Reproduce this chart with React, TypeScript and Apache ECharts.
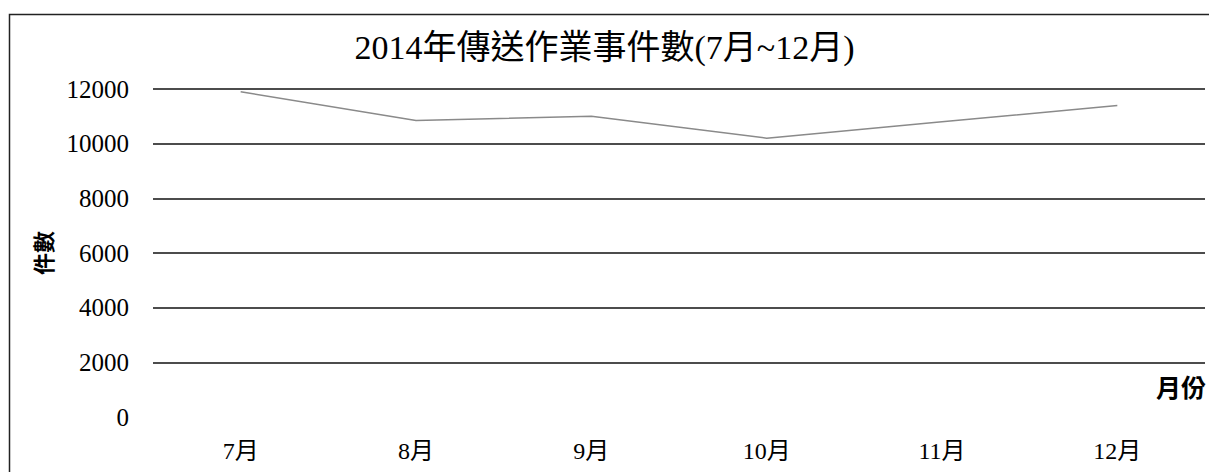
import React, { useEffect, useRef } from "react";
import * as echarts from "echarts";

const titleText = "2014年傳送作業事件數(7月~12月)";
const months = ["7月", "8月", "9月", "10月", "11月", "12月"];
const caseCounts = [11900, 10850, 11000, 10200, 10800, 11400];
const yAxisName = "件數";
const xAxisName = "月份";

const FONT = "'Liberation Serif', 'Noto Sans CJK TC', serif";

export default function App() {
  const ref = useRef<HTMLDivElement>(null);
  useEffect(() => {
    if (!ref.current) return;
    const chart = echarts.init(ref.current, undefined, { renderer: "svg" });
    chart.setOption({
      animation: false,
      backgroundColor: "#ffffff",
      title: {
        text: titleText,
        left: "center",
        top: 25,
        textStyle: { fontFamily: FONT, fontSize: 34, fontWeight: "normal", color: "#000" },
      },
      grid: { left: 153, right: 4, top: 89, bottom: 55 },
      xAxis: {
        type: "category",
        data: months,
        boundaryGap: true,
        axisLine: { show: false },
        axisTick: { show: false },
        axisLabel: { fontFamily: FONT, fontSize: 24, color: "#000", margin: 22 },
        splitLine: { show: false },
      },
      yAxis: {
        type: "value",
        min: 0,
        max: 12000,
        interval: 2000,
        name: yAxisName,
        nameLocation: "middle",
        nameRotate: 90,
        nameGap: 84,
        nameTextStyle: { fontFamily: FONT, fontSize: 22, color: "#000", fontWeight: "bold" },
        axisLine: { show: false },
        axisTick: { show: false },
        axisLabel: {
          fontFamily: FONT,
          fontSize: 25,
          color: "#000",
          margin: 24,
          formatter: (v: number) => String(v),
        },
        splitLine: { show: true, showMinLine: false, lineStyle: { color: "#111", width: 1.5 } },
      },
      series: [
        {
          type: "line",
          data: caseCounts,
          showSymbol: false,
          symbol: "none",
          lineStyle: { color: "#8a8a8a", width: 1.5 },
        },
      ],
      graphic: [
        {
          type: "rect",
          shape: { x: 9.5, y: 14.5, width: 1400, height: 600 },
          style: { fill: "none", stroke: "#222", lineWidth: 1.5 },
          silent: true,
        },
        {
          type: "text",
          right: 3,
          top: 376,
          style: { text: xAxisName, fontFamily: FONT, fontSize: 25, fill: "#000", fontWeight: "bold" },
        },
      ],
    });
    return () => chart.dispose();
  }, []);
  return (
    <div
      ref={ref}
      style={{ position: "absolute", left: 0, top: 0, width: 1209, height: 472 }}
    />
  );
}
